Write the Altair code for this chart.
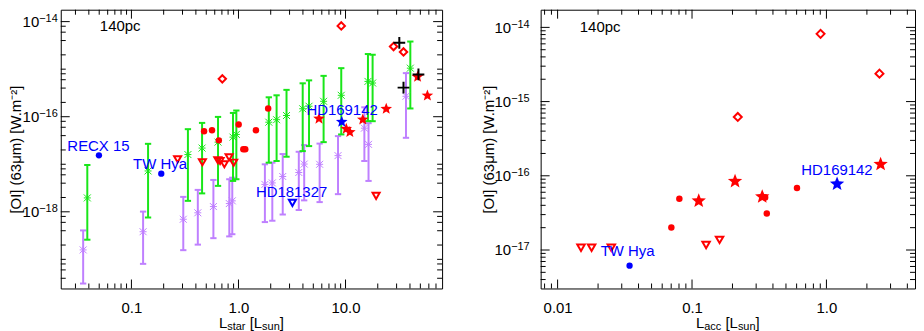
import math
import altair as alt
import pandas as pd

FONT = "Liberation Sans"
RED = "#ff0000"
BLUE = "#0000ff"
GREEN = "#19e619"
PURPLE = "#bf80ff"
BLACK = "#000000"

# ---------------- Left panel: [OI] 63um flux vs L_star ----------------
GREEN_LSTAR = [0.0387, 0.143, 0.337, 0.457, 0.644, 0.889, 0.955, 1.92, 2.27, 2.81,
               3.98, 4.56, 6.24, 9.12, 16.2, 17.9, 40.3]
GREEN_FLUX = [1.96e-18, 7.23e-18, 1.60e-17, 2.19e-17, 2.92e-17, 3.72e-17, 4.24e-17, 7.67e-17,
              8.65e-17, 1.06e-16, 1.47e-16, 1.66e-16, 2.11e-16, 2.82e-16, 5.53e-16, 5.11e-16, 1.05e-15]
GREEN_LO = [2.59e-19, 7.59e-19, 1.70e-18, 2.44e-18, 3.51e-18, 4.46e-18, 4.84e-18, 1.08e-17,
            1.17e-17, 1.44e-17, 1.89e-17, 2.41e-17, 2.92e-17, 4.24e-17, 8.05e-17, 8.05e-17, 1.49e-16]
GREEN_HI = [9.64e-18, 2.69e-17, 5.47e-17, 7.41e-17, 9.91e-17, 1.20e-16, 1.35e-16, 2.56e-16,
            2.82e-16, 3.67e-16, 5.04e-16, 5.81e-16, 7.23e-16, 1.05e-15, 2.08e-15, 2.01e-15, 3.81e-15]

PURPLE_LSTAR = [0.0354, 0.1285, 0.305, 0.417, 0.583, 0.821, 0.875, 1.765, 2.07, 2.59,
                3.66, 4.11, 5.73, 8.51, 15.0, 16.4, 36.7]
PURPLE_FLUX = [1.58e-19, 3.81e-19, 6.97e-19, 9.53e-19, 1.29e-18, 1.49e-18, 1.70e-18, 3.77e-18,
               4.05e-18, 5.53e-18, 6.71e-18, 1.01e-17, 9.98e-18, 1.52e-17, 5.74e-17, 2.62e-17, 2.69e-16]
PURPLE_LO = [3.10e-20, 8.04e-20, 1.56e-19, 2.04e-19, 2.79e-19, 3.04e-19, 3.38e-19, 6.08e-19,
             6.49e-19, 8.77e-19, 1.09e-18, 1.74e-18, 1.60e-18, 2.35e-18, 1.17e-17, 4.46e-18, 3.60e-17]
PURPLE_HI = [4.06e-19, 1.01e-18, 2.06e-18, 2.89e-18, 4.68e-18, 4.84e-18, 5.22e-18, 9.98e-18,
             1.08e-17, 1.64e-17, 1.83e-17, 2.53e-17, 2.72e-17, 3.91e-17, 1.58e-16, 7.31e-17, 8.26e-16]

L_CIRCLE_X = [0.477, 0.566, 0.655, 1.004, 1.109, 1.157, 1.455, 1.893]
L_CIRCLE_Y = [4.97e-17, 5.21e-17, 3.18e-17, 6.87e-17, 2.06e-17, 2.06e-17, 5.21e-17, 1.49e-16]
L_TRI_X = [0.270, 0.460, 0.641, 0.673, 0.738, 0.817, 0.901, 19.3]
L_TRI_Y = [1.27e-17, 1.10e-17, 1.21e-17, 1.17e-17, 9.98e-18, 1.40e-17, 1.08e-17, 2.16e-18]
L_DIAMOND_X = [9.12, 0.706, 28.1, 34.8]
L_DIAMOND_Y = [8.13e-15, 6.25e-16, 2.99e-15, 2.30e-15]
L_PLUS_X = [31.8, 34.8, 48.0]
L_PLUS_Y = [3.58e-15, 4.09e-16, 7.76e-16]
L_STAR_X = [5.65, 10.16, 10.97, 14.49, 24.0, 47.1, 58.2]
L_STAR_Y = [9.08e-17, 5.56e-17, 4.73e-17, 8.73e-17, 1.46e-16, 6.89e-16, 2.79e-16]
L_BLUE_DOT_X = [0.0497, 0.190]
L_BLUE_DOT_Y = [1.54e-17, 6.34e-18]
L_BLUE_STAR_X = [9.22]
L_BLUE_STAR_Y = [7.78e-17]
L_BLUE_TRI_X = [3.19]
L_BLUE_TRI_Y = [1.54e-18]
L_NAMES = ["RECX 15", "TW Hya", "HD169142", "HD181327"]
L_NAME_X = [0.0252, 0.1037, 4.31, 1.455]
L_NAME_Y = [1.89e-17, 8.07e-18, 1.07e-16, 2.06e-18]
L_NOTE_X = [0.0507]
L_NOTE_Y = [6.26e-15]

# ---------------- Right panel: [OI] 63um flux vs L_acc ----------------
R_DIAMOND_X = [0.219, 0.904, 2.48]
R_DIAMOND_Y = [6.21e-16, 8.18e-15, 2.38e-15]
R_CIRCLE_X = [0.0805, 0.0702, 0.360, 0.604, 0.350]
R_CIRCLE_Y = [4.89e-17, 2.01e-17, 3.10e-17, 6.85e-17, 5.11e-17]
R_STAR_X = [0.1122, 0.209, 0.333, 2.53]
R_STAR_Y = [4.59e-17, 8.43e-17, 5.22e-17, 1.43e-16]
R_TRI_X = [0.01493, 0.0179, 0.0251, 0.1273, 0.1603]
R_TRI_Y = [1.07e-17, 1.07e-17, 1.07e-17, 1.17e-17, 1.37e-17]
R_BLUE_DOT_X = [0.0343]
R_BLUE_DOT_Y = [6.15e-18]
R_BLUE_STAR_X = [1.20]
R_BLUE_STAR_Y = [7.76e-17]
R_NAMES = ["TW Hya", "HD169142"]
R_NAME_X = [0.02094, 0.650]
R_NAME_Y = [8.20e-18, 1.02e-16]
R_NOTE_X = [0.01463]
R_NOTE_Y = [8.78e-15]

NOTE = "140pc"
YTITLE = "[OI] (63\u03bcm) [W.m\u207b\u00b2]"

# y tick labels: mantissa "10" with exponents
L_YLAB_VALS = [1e-14, 1e-16, 1e-18]
L_YLAB_EXP = ["\u221214", "\u221216", "\u221218"]
R_YLAB_VALS = [1e-14, 1e-15, 1e-16, 1e-17]
R_YLAB_EXP = ["\u221214", "\u221215", "\u221216", "\u221217"]


# ---------------- styling helpers ----------------
def label_expr(vals, labels):
    parts = [f"abs(datum.value - {v!r}) < {abs(v) * 1e-6!r} ? '{lab}'" for v, lab in zip(vals, labels)]
    return " : ".join(parts) + " : ''"


def star_path():
    pts = []
    for k in range(10):
        a = -math.pi / 2 + k * math.pi / 5
        r = 1.0 if k % 2 == 0 else 0.43
        pts.append(f"{r * math.cos(a):.3f},{r * math.sin(a):.3f}")
    return "M" + "L".join(pts) + "Z"


STAR = star_path()
ASTER = "M-1,-1L1,1M1,-1L-1,1M-1,0L1,0M0,-1L0,1"
PLUS = "M-1,0L1,0M0,-1L0,1"

CHARW = {"L": 0.556, "s": 0.5, "t": 0.278, "a": 0.556, "r": 0.333, "[": 0.278, "]": 0.278,
         "u": 0.556, "n": 0.556, "c": 0.5, " ": 0.278, "\u2212": 0.584}


def text_w(s, fs):
    return sum(CHARW.get(ch, 0.556) for ch in s) * fs


def log_ticks(dom, mantissas, major_test):
    major, minor = [], []
    for e in range(-21, 3):
        for m in mantissas:
            v = float(f"{m}e{e}")
            if dom[0] < v < dom[1]:
                (major if major_test(m, e) else minor).append(v)
    return major, minor


def make_panel(p):
    W, H = p["W"], p["H"]
    xs = alt.Scale(type="log", domain=p["xdom"], nice=False)
    ys = alt.Scale(type="log", domain=p["ydom"], nice=False)
    xax = alt.Axis(values=p["xlab_vals"], labelExpr=label_expr(p["xlab_vals"], p["xlab_txt"]),
                   ticks=False, domain=False, grid=False, labelFont=FONT, labelFontSize=15,
                   labelColor="black", labelPadding=12, labelFlush=False, labelOverlap=False,
                   title=None)
    yax = alt.Axis(values=p["ylab_vals"], labels=False, ticks=False, domain=False, grid=False,
                   title=YTITLE, titleFont=FONT, titleFontSize=15,
                   titleFontWeight="normal", titleColor="black", titlePadding=p["ytitlepad"])

    def X(f):
        return alt.X(f, type="quantitative", scale=xs, axis=xax)

    def Y(f):
        return alt.Y(f, type="quantitative", scale=ys, axis=yax)

    layers = []
    # inward ticks on all four sides
    xmaj, xmin = p["xticks"]
    ymaj, ymin = p["yticks"]
    for vals, ln in ((xmaj, 9), (xmin, 5)):
        d = pd.DataFrame({"v": vals})
        layers.append(alt.Chart(d).mark_rule(color="black", strokeWidth=1).encode(
            x=X("v"), y=alt.value(H), y2=alt.value(H - ln)))
        layers.append(alt.Chart(d).mark_rule(color="black", strokeWidth=1).encode(
            x=X("v"), y=alt.value(0), y2=alt.value(ln)))
    for vals, ln in ((ymaj, 9), (ymin, 5)):
        d = pd.DataFrame({"v": vals})
        layers.append(alt.Chart(d).mark_rule(color="black", strokeWidth=1).encode(
            y=Y("v"), x=alt.value(0), x2=alt.value(ln)))
        layers.append(alt.Chart(d).mark_rule(color="black", strokeWidth=1).encode(
            y=Y("v"), x=alt.value(W - ln), x2=alt.value(W)))

    # y tick labels: "10" plus raised exponent
    pad = p["ylabpad"]
    expw = max(text_w(e, 11) for e in p["ylab_exp"])
    d = pd.DataFrame({"v": p["ylab_vals"], "e": p["ylab_exp"]})
    layers.append(alt.Chart(d).mark_text(align="right", baseline="alphabetic", font=FONT,
                                         fontSize=15, color="black", dy=5.5).encode(
        y=Y("v"), x=alt.value(-pad - expw), text=alt.value("10")))
    layers.append(alt.Chart(d).mark_text(align="right", baseline="alphabetic", font=FONT,
                                         fontSize=11, color="black", dy=0.5).encode(
        y=Y("v"), x=alt.value(-pad), text="e:N"))

    # error-bar series
    for eb in p["errbars"]:
        d = pd.DataFrame({"x": eb["x"], "y": eb["y"], "lo": eb["lo"], "hi": eb["hi"]})
        c = eb["color"]
        layers.append(alt.Chart(d).mark_rule(color=c, strokeWidth=2).encode(
            x=X("x"), y=Y("lo"), y2=alt.Y2("hi")))
        for f in ("lo", "hi"):
            layers.append(alt.Chart(d).mark_point(shape="stroke", size=40, strokeWidth=2, color=c,
                                                   opacity=1).encode(x=X("x"), y=Y(f)))
    for eb in p["errbars"]:
        d = pd.DataFrame({"x": eb["x"], "y": eb["y"]})
        layers.append(alt.Chart(d).mark_point(shape=ASTER, size=49, strokeWidth=1,
                                               color=eb["color"], filled=False, opacity=1).encode(
            x=X("x"), y=Y("y")))

    # symbol series
    for s in p["series"]:
        d = pd.DataFrame({"x": s["x"], "y": s["y"]})
        if s["filled"]:
            mk = alt.Chart(d).mark_point(shape=s["shape"], size=s["size"], filled=True,
                                         color=s["color"], opacity=1, strokeWidth=0)
        else:
            mk = alt.Chart(d).mark_point(shape=s["shape"], size=s["size"], filled=False,
                                         color=s["color"], opacity=1, strokeWidth=s.get("sw", 2))
        layers.append(mk.encode(x=X("x"), y=Y("y")))

    # text annotations
    for t in p["texts"]:
        d = pd.DataFrame({"x": t["x"], "y": t["y"], "t": t["t"]})
        layers.append(alt.Chart(d).mark_text(align="left", baseline="alphabetic", font=FONT,
                                             fontSize=15, color=t["color"]).encode(
            x=X("x"), y=Y("y"), text="t:N"))

    # x-axis title with subscripts
    segs = p["xtitle"]
    total = sum(text_w(s, fs) + gap * fs for s, fs, dy, gap in segs)
    cur = W / 2 - total / 2
    for s, fs, dy, gap in segs:
        cur += gap * fs
        d = pd.DataFrame({"t": [s]})
        layers.append(alt.Chart(d).mark_text(align="left", baseline="alphabetic", font=FONT,
                                             fontSize=fs, color="black").encode(
            x=alt.value(cur), y=alt.value(H + 40 + dy), text="t:N"))
        cur += text_w(s, fs)

    return alt.layer(*layers).properties(width=W, height=H)


H = 280
LX_DOM = [0.02187, 79.8]
LY_DOM = [2.44e-20, 1.78e-14]
RX_DOM = [0.00748, 4.56]
RY_DOM = [3.03e-18, 1.73e-14]

left = make_panel({
    "W": 383, "H": H, "xdom": LX_DOM, "ydom": LY_DOM,
    "xlab_vals": [0.1, 1.0, 10.0], "xlab_txt": ["0.1", "1.0", "10.0"],
    "ylab_vals": L_YLAB_VALS, "ylab_exp": L_YLAB_EXP, "ylabpad": 3, "ytitlepad": 37,
    "xticks": log_ticks(LX_DOM, range(1, 10), lambda m, e: m == 1),
    "yticks": log_ticks(LY_DOM, (1, 2, 4, 6, 8), lambda m, e: m == 1 and e % 2 == 0),
    "errbars": [
        {"x": PURPLE_LSTAR, "y": PURPLE_FLUX, "lo": PURPLE_LO, "hi": PURPLE_HI, "color": PURPLE},
        {"x": GREEN_LSTAR, "y": GREEN_FLUX, "lo": GREEN_LO, "hi": GREEN_HI, "color": GREEN},
    ],
    "series": [
        {"x": L_CIRCLE_X, "y": L_CIRCLE_Y, "shape": "circle", "size": 42, "color": RED, "filled": True},
        {"x": L_TRI_X, "y": L_TRI_Y, "shape": "triangle-down", "size": 50, "color": RED, "filled": False},
        {"x": L_DIAMOND_X, "y": L_DIAMOND_Y, "shape": "diamond", "size": 55, "color": RED, "filled": False},
        {"x": L_STAR_X, "y": L_STAR_Y, "shape": STAR, "size": 150, "color": RED, "filled": True},
        {"x": L_PLUS_X, "y": L_PLUS_Y, "shape": PLUS, "size": 140, "color": BLACK, "filled": False},
        {"x": L_BLUE_DOT_X, "y": L_BLUE_DOT_Y, "shape": "circle", "size": 40, "color": BLUE, "filled": True},
        {"x": L_BLUE_STAR_X, "y": L_BLUE_STAR_Y, "shape": STAR, "size": 150, "color": BLUE, "filled": True},
        {"x": L_BLUE_TRI_X, "y": L_BLUE_TRI_Y, "shape": "triangle-down", "size": 50, "color": BLUE, "filled": False},
    ],
    "texts": [
        {"x": L_NAME_X, "y": L_NAME_Y, "t": L_NAMES, "color": BLUE},
        {"x": L_NOTE_X, "y": L_NOTE_Y, "t": [NOTE], "color": BLACK},
    ],
    "xtitle": [("L", 15, 0, 0), ("star", 11, 2, 0), ("[L", 15, 0, 0.278), ("sun", 11, 2, 0), ("]", 15, 0, 0)],
})

right = make_panel({
    "W": 376, "H": H, "xdom": RX_DOM, "ydom": RY_DOM,
    "xlab_vals": [0.01, 0.1, 1.0], "xlab_txt": ["0.01", "0.1", "1.0"],
    "ylab_vals": R_YLAB_VALS, "ylab_exp": R_YLAB_EXP, "ylabpad": 11, "ytitlepad": 44,
    "xticks": log_ticks(RX_DOM, range(1, 10), lambda m, e: m == 1),
    "yticks": log_ticks(RY_DOM, range(1, 10), lambda m, e: m == 1),
    "errbars": [],
    "series": [
        {"x": R_CIRCLE_X, "y": R_CIRCLE_Y, "shape": "circle", "size": 42, "color": RED, "filled": True},
        {"x": R_TRI_X, "y": R_TRI_Y, "shape": "triangle-down", "size": 56, "color": RED, "filled": False},
        {"x": R_DIAMOND_X, "y": R_DIAMOND_Y, "shape": "diamond", "size": 64, "color": RED, "filled": False},
        {"x": R_STAR_X, "y": R_STAR_Y, "shape": STAR, "size": 230, "color": RED, "filled": True},
        {"x": R_BLUE_DOT_X, "y": R_BLUE_DOT_Y, "shape": "circle", "size": 40, "color": BLUE, "filled": True},
        {"x": R_BLUE_STAR_X, "y": R_BLUE_STAR_Y, "shape": STAR, "size": 230, "color": BLUE, "filled": True},
    ],
    "texts": [
        {"x": R_NAME_X, "y": R_NAME_Y, "t": R_NAMES, "color": BLUE},
        {"x": R_NOTE_X, "y": R_NOTE_Y, "t": [NOTE], "color": BLACK},
    ],
    "xtitle": [("L", 15, 0, 0), ("acc", 11, 2, 0), ("[L", 15, 0, 0.278), ("sun", 11, 2, 0), ("]", 15, 0, 0)],
})

chart = alt.hconcat(left, right, spacing=38).properties(padding=0).configure_view(
    stroke="black", strokeWidth=1)

chart.save("out.html", embed_options={"renderer": "svg", "actions": False})
